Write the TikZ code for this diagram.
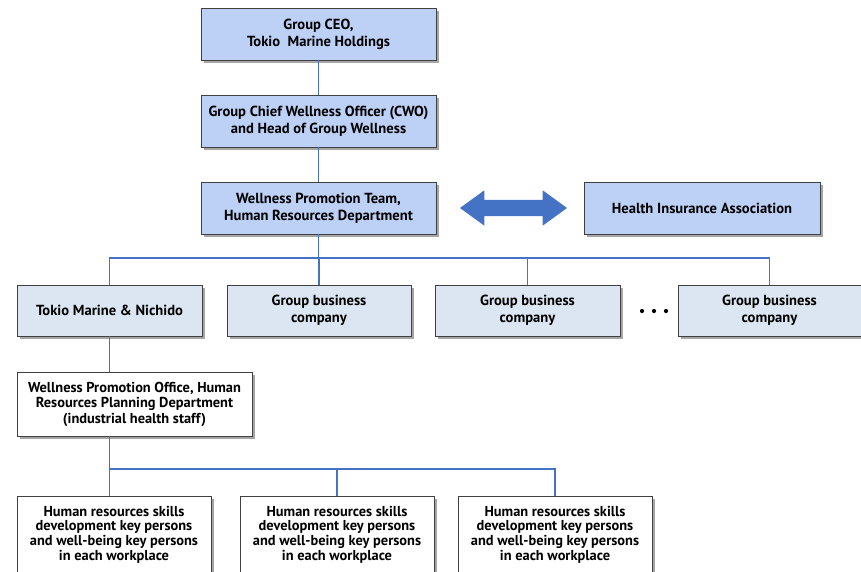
\documentclass[tikz,border=0pt]{standalone}
\usepackage{fontspec}
\setmainfont{PT Sans}
\usetikzlibrary{shadows,shapes.arrows}
\definecolor{topfill}{HTML}{BDD0F5}
\definecolor{midfill}{HTML}{DCE6F2}
\definecolor{lineblue}{HTML}{4472C4}
\definecolor{boxedge}{HTML}{404040}
\tikzset{
  box/.style={draw=boxedge, line width=0.9pt, align=center, inner sep=2pt,
    font=\bfseries\fontsize{14.6}{17}\selectfont,
    drop shadow={shadow xshift=2.5pt, shadow yshift=-2.5pt, opacity=0.35, fill=black}},
  topbox/.style={box, fill=topfill, minimum width=235pt, minimum height=52pt},
  midbox/.style={box, fill=midfill, minimum width=185pt, minimum height=51pt},
  whitebox/.style={box, fill=white},
  smallbox/.style={whitebox, minimum width=194pt, minimum height=77pt,
    font=\bfseries\fontsize{14.4}{14.6}\selectfont},
  conn/.style={draw=lineblue, line width=1.6pt},
  thinconn/.style={draw=lineblue, line width=1.1pt},
  dotmark/.style={circle, fill=black, inner sep=0pt, minimum size=4.2pt}
}
\begin{document}
\begin{tikzpicture}[x=1pt,y=-1pt]
\useasboundingbox (0,0) rectangle (861,571);
\clip (0,0) rectangle (861,571);
% top column
\node[topbox] (ceo) at (318.5,34) {Group CEO,\\Tokio~~Marine Holdings};
\node[topbox] (cwo) at (318.5,121) {Group Chief Wellness Officer (CWO)\\and Head of Group Wellness};
\node[topbox] (wpt) at (318.5,208) {Wellness Promotion Team,\\Human Resources Department};
\node[topbox, minimum width=236pt] (hia) at (702,208) {Health Insurance Association};
\node[double arrow, fill=lineblue, inner sep=8pt, minimum height=107pt,
      double arrow head extend=9.5pt, double arrow tip angle=72] (arr) at (513.5,208) {};
% second row
\node[midbox] (tmn) at (109.5,310.5) {Tokio Marine \& Nichido};
\node[midbox, minimum width=184pt] (g1) at (319,310.5) {Group business\\company};
\node[midbox] (g2) at (527.5,310.5) {Group business\\company};
\node[midbox, minimum width=183pt] (g3) at (769.5,310.5) {Group business\\company};
\node[dotmark] (d1) at (642,311) {};
\node[dotmark] (d2) at (654,311) {};
\node[dotmark] (d3) at (666,311) {};
% third row
\node[whitebox, minimum width=235pt, minimum height=64pt, font=\bfseries\fontsize{14.4}{15.5}\selectfont] (wpo) at (134.5,404)
  {Wellness Promotion Office, Human\\Resources Planning Department\\(industrial health staff)};
% bottom row
\node[smallbox] (k1) at (114,534.5) {Human resources skills\\development key persons\\and well-being key persons\\in each workplace};
\node[smallbox] (k2) at (337,534.5) {Human resources skills\\development key persons\\and well-being key persons\\in each workplace};
\node[smallbox] (k3) at (555,534.5) {Human resources skills\\development key persons\\and well-being key persons\\in each workplace};
% connectors
\coordinate (busA) at (0,258);
\coordinate (busB) at (0,469);
\draw[thinconn] (ceo) -- (cwo);
\draw[thinconn] (cwo) -- (wpt);
\draw[conn] (wpt) -- (wpt |- busA);
\draw[conn] (tmn.north) -- (tmn.north |- busA) -- (g3.north |- busA) -- (g3.north);
\draw[conn] (g1.north) -- (g1.north |- busA);
\draw[conn] (g2.north) -- (g2.north |- busA);
\draw[conn] (tmn.south) -- (tmn.south |- wpo.north);
\draw[conn] (tmn.south |- wpo.south) -- (tmn.south |- busB) -- (k3.north |- busB) -- (k3.north);
\draw[conn] (tmn.south |- busB) -- (tmn.south |- k1.north);
\draw[conn] (k2.north) -- (k2.north |- busB);
\end{tikzpicture}
\end{document}
